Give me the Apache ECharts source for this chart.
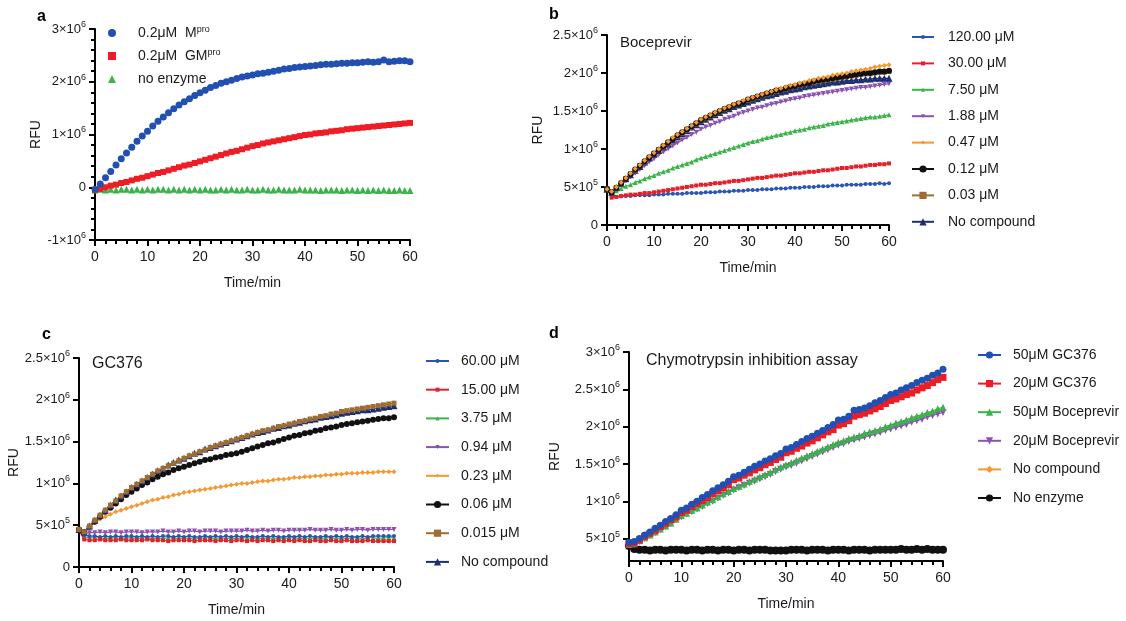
<!DOCTYPE html>
<html><head><meta charset="utf-8">
<script src="https://cdn.jsdelivr.net/npm/echarts@6/dist/echarts.min.js"></script>
<style>html,body{margin:0;padding:0;background:#fff}#c{width:1126px;height:621px}</style>
</head><body><div id="c"></div>
<script>
// time points (min)
const TIME = [0,1,2,3,4,5,6,7,8,9,10,11,12,13,14,15,16,17,18,19,20,21,22,23,24,25,26,27,28,29,30,31,32,33,34,35,36,37,38,39,40,41,42,43,44,45,46,47,48,49,50,51,52,53,54,55,56,57,58,59,60];
// all values in RFU x 10^6
// ---- panel a
const A_NAMES = ['0.2μM  M^pro', '0.2μM  GM^pro', 'no enzyme'];
const A_MPRO = [-0.04,0.06,0.18,0.30,0.42,0.54,0.65,0.76,0.87,0.97,1.06,1.16,1.25,1.33,1.41,1.49,1.56,1.62,1.68,1.74,1.79,1.84,1.89,1.93,1.97,2.00,2.03,2.06,2.09,2.11,2.13,2.15,2.16,2.18,2.20,2.22,2.24,2.25,2.27,2.28,2.29,2.30,2.31,2.32,2.33,2.33,2.34,2.35,2.35,2.36,2.36,2.37,2.38,2.37,2.38,2.41,2.38,2.39,2.40,2.40,2.38];
const A_GMPRO = [-0.05,-0.03,0.00,0.03,0.05,0.08,0.10,0.13,0.16,0.18,0.21,0.24,0.27,0.29,0.32,0.35,0.38,0.41,0.43,0.46,0.49,0.52,0.55,0.58,0.61,0.64,0.67,0.69,0.72,0.75,0.78,0.80,0.83,0.85,0.87,0.89,0.91,0.93,0.95,0.97,0.99,1.00,1.02,1.03,1.04,1.06,1.07,1.08,1.10,1.11,1.12,1.13,1.14,1.15,1.16,1.17,1.18,1.19,1.20,1.21,1.22];
const A_NOENZ = [-0.05,-0.04,-0.05,-0.04,-0.05,-0.04,-0.04,-0.05,-0.04,-0.05,-0.04,-0.05,-0.04,-0.04,-0.05,-0.04,-0.05,-0.04,-0.05,-0.04,-0.05,-0.04,-0.05,-0.05,-0.04,-0.05,-0.04,-0.05,-0.05,-0.04,-0.05,-0.05,-0.04,-0.05,-0.05,-0.04,-0.05,-0.05,-0.05,-0.04,-0.05,-0.05,-0.05,-0.06,-0.05,-0.05,-0.05,-0.06,-0.05,-0.05,-0.06,-0.05,-0.06,-0.05,-0.06,-0.05,-0.06,-0.06,-0.05,-0.06,-0.06];
// ---- panel b (Boceprevir)
const B_NAMES = ['120.00 μM','30.00 μM','7.50 μM','1.88 μM','0.47 μM','0.12 μM','0.03 μM','No compound'];
const B_120 = [0.47,0.37,0.37,0.38,0.38,0.38,0.39,0.39,0.39,0.39,0.40,0.40,0.40,0.41,0.41,0.41,0.41,0.42,0.42,0.42,0.42,0.43,0.43,0.43,0.44,0.44,0.44,0.45,0.45,0.45,0.46,0.46,0.46,0.47,0.47,0.47,0.48,0.48,0.48,0.49,0.49,0.49,0.50,0.50,0.50,0.51,0.51,0.51,0.52,0.52,0.52,0.53,0.53,0.53,0.53,0.54,0.54,0.54,0.55,0.54,0.55];
const B_30 = [0.47,0.36,0.37,0.38,0.39,0.40,0.40,0.41,0.42,0.42,0.43,0.44,0.45,0.46,0.47,0.48,0.49,0.50,0.51,0.52,0.53,0.53,0.54,0.55,0.55,0.56,0.57,0.58,0.58,0.59,0.60,0.61,0.62,0.62,0.63,0.64,0.65,0.65,0.66,0.67,0.68,0.68,0.69,0.70,0.70,0.71,0.72,0.72,0.73,0.74,0.75,0.75,0.76,0.77,0.77,0.78,0.79,0.79,0.80,0.80,0.81];
const B_7P5 = [0.47,0.42,0.45,0.48,0.51,0.53,0.56,0.58,0.61,0.63,0.65,0.68,0.70,0.72,0.75,0.77,0.79,0.81,0.83,0.86,0.88,0.90,0.92,0.94,0.96,0.98,1.00,1.02,1.04,1.06,1.08,1.10,1.11,1.13,1.15,1.16,1.18,1.19,1.21,1.22,1.24,1.25,1.26,1.28,1.29,1.30,1.31,1.33,1.34,1.35,1.36,1.37,1.38,1.39,1.40,1.41,1.42,1.42,1.43,1.44,1.45];
const B_1P88 = [0.47,0.43,0.48,0.53,0.58,0.63,0.68,0.73,0.78,0.83,0.87,0.92,0.96,1.00,1.04,1.08,1.12,1.15,1.19,1.22,1.26,1.29,1.31,1.34,1.36,1.39,1.41,1.43,1.46,1.48,1.50,1.52,1.54,1.55,1.57,1.59,1.60,1.62,1.63,1.65,1.66,1.67,1.69,1.70,1.71,1.72,1.73,1.74,1.75,1.76,1.77,1.78,1.79,1.80,1.81,1.81,1.82,1.83,1.84,1.85,1.86];
const B_0P47 = [0.47,0.44,0.50,0.56,0.62,0.68,0.74,0.79,0.85,0.90,0.95,1.00,1.05,1.10,1.15,1.19,1.23,1.27,1.31,1.35,1.39,1.42,1.45,1.48,1.51,1.54,1.56,1.59,1.61,1.64,1.66,1.68,1.70,1.72,1.74,1.76,1.78,1.80,1.82,1.84,1.85,1.87,1.88,1.90,1.91,1.93,1.94,1.95,1.97,1.98,1.99,2.00,2.02,2.03,2.04,2.05,2.06,2.08,2.09,2.10,2.11];
const B_0P12 = [0.47,0.43,0.49,0.55,0.61,0.67,0.73,0.78,0.84,0.89,0.94,0.99,1.04,1.09,1.13,1.18,1.22,1.26,1.30,1.34,1.38,1.41,1.44,1.47,1.50,1.53,1.55,1.58,1.60,1.62,1.65,1.67,1.69,1.71,1.73,1.75,1.77,1.78,1.80,1.82,1.83,1.85,1.86,1.87,1.89,1.90,1.91,1.92,1.93,1.94,1.95,1.96,1.97,1.98,1.99,2.00,2.00,2.01,2.02,2.02,2.03];
const B_0P03 = [0.48,0.44,0.49,0.55,0.61,0.67,0.72,0.78,0.83,0.89,0.94,0.99,1.03,1.08,1.13,1.17,1.21,1.25,1.29,1.33,1.37,1.40,1.43,1.46,1.49,1.52,1.55,1.57,1.60,1.62,1.64,1.66,1.68,1.70,1.72,1.74,1.76,1.78,1.79,1.81,1.82,1.84,1.85,1.87,1.88,1.89,1.90,1.91,1.92,1.93,1.94,1.95,1.96,1.97,1.98,1.99,1.99,2.00,2.01,2.01,2.02];
const B_NOCMP = [0.47,0.43,0.49,0.55,0.61,0.66,0.72,0.77,0.83,0.88,0.93,0.98,1.03,1.07,1.12,1.16,1.20,1.24,1.29,1.32,1.36,1.39,1.42,1.45,1.48,1.51,1.53,1.56,1.58,1.60,1.62,1.64,1.66,1.68,1.70,1.71,1.73,1.75,1.76,1.78,1.79,1.80,1.82,1.83,1.84,1.85,1.86,1.87,1.88,1.88,1.89,1.90,1.90,1.91,1.91,1.92,1.92,1.93,1.93,1.93,1.93];
// ---- panel c (GC376)
const C_NAMES = ['60.00 μM','15.00 μM','3.75 μM','0.94 μM','0.23 μM','0.06 μM','0.015 μM','No compound\u200b'];
const C_60 = [0.45,0.38,0.37,0.37,0.36,0.37,0.36,0.37,0.36,0.37,0.37,0.36,0.37,0.36,0.37,0.36,0.37,0.37,0.36,0.37,0.36,0.37,0.36,0.36,0.37,0.36,0.37,0.36,0.37,0.36,0.37,0.36,0.37,0.36,0.36,0.37,0.36,0.37,0.36,0.36,0.37,0.36,0.37,0.36,0.37,0.36,0.36,0.37,0.36,0.37,0.36,0.37,0.36,0.36,0.37,0.36,0.37,0.37,0.37,0.37,0.37];
const C_15 = [0.43,0.33,0.32,0.32,0.33,0.32,0.32,0.32,0.33,0.32,0.32,0.32,0.32,0.33,0.32,0.32,0.32,0.31,0.32,0.32,0.32,0.32,0.31,0.32,0.32,0.32,0.31,0.32,0.32,0.31,0.32,0.32,0.31,0.32,0.31,0.32,0.32,0.31,0.32,0.31,0.32,0.31,0.32,0.31,0.31,0.32,0.31,0.31,0.32,0.31,0.31,0.32,0.31,0.31,0.31,0.32,0.31,0.31,0.31,0.31,0.31];
const C_3P75 = [0.44,0.36,0.35,0.35,0.35,0.34,0.35,0.35,0.34,0.35,0.35,0.34,0.35,0.35,0.34,0.35,0.34,0.35,0.35,0.34,0.35,0.34,0.35,0.34,0.35,0.35,0.34,0.35,0.34,0.35,0.34,0.35,0.35,0.34,0.35,0.34,0.35,0.34,0.35,0.34,0.35,0.35,0.34,0.35,0.34,0.35,0.34,0.35,0.35,0.34,0.35,0.34,0.35,0.35,0.34,0.35,0.35,0.34,0.35,0.35,0.35];
const C_0P94 = [0.45,0.40,0.41,0.41,0.42,0.41,0.42,0.42,0.41,0.42,0.42,0.42,0.41,0.42,0.42,0.42,0.43,0.42,0.42,0.43,0.42,0.43,0.43,0.42,0.43,0.43,0.43,0.42,0.43,0.43,0.43,0.43,0.44,0.43,0.43,0.44,0.43,0.44,0.44,0.43,0.44,0.44,0.44,0.44,0.45,0.44,0.44,0.44,0.45,0.44,0.44,0.45,0.44,0.45,0.45,0.44,0.45,0.45,0.45,0.45,0.45];
const C_0P23 = [0.45,0.42,0.48,0.53,0.57,0.60,0.63,0.66,0.68,0.70,0.72,0.74,0.76,0.78,0.80,0.81,0.83,0.84,0.86,0.87,0.89,0.90,0.91,0.92,0.93,0.94,0.95,0.96,0.97,0.98,0.99,1.00,1.00,1.01,1.02,1.03,1.03,1.04,1.05,1.05,1.06,1.07,1.07,1.08,1.08,1.09,1.09,1.10,1.10,1.11,1.11,1.12,1.12,1.12,1.13,1.13,1.13,1.14,1.14,1.14,1.14];
const C_0P06 = [0.45,0.42,0.48,0.54,0.60,0.66,0.71,0.76,0.81,0.86,0.90,0.94,0.98,1.01,1.05,1.08,1.11,1.13,1.16,1.18,1.20,1.22,1.24,1.26,1.28,1.29,1.31,1.32,1.34,1.35,1.36,1.38,1.40,1.42,1.44,1.46,1.48,1.49,1.51,1.53,1.55,1.57,1.58,1.60,1.61,1.63,1.64,1.66,1.67,1.68,1.70,1.71,1.72,1.73,1.74,1.75,1.76,1.77,1.78,1.78,1.79];
const C_0P015 = [0.45,0.42,0.49,0.56,0.62,0.68,0.74,0.79,0.85,0.90,0.95,0.99,1.03,1.07,1.11,1.15,1.18,1.21,1.24,1.27,1.30,1.33,1.35,1.38,1.40,1.43,1.45,1.47,1.49,1.51,1.53,1.55,1.57,1.59,1.61,1.63,1.64,1.66,1.68,1.69,1.71,1.72,1.74,1.75,1.77,1.78,1.80,1.81,1.83,1.84,1.86,1.87,1.88,1.89,1.90,1.91,1.92,1.93,1.94,1.95,1.96];
const C_NOCMP = [0.45,0.42,0.49,0.56,0.62,0.68,0.74,0.80,0.85,0.90,0.95,0.99,1.03,1.07,1.11,1.15,1.18,1.22,1.25,1.28,1.30,1.33,1.36,1.38,1.41,1.43,1.45,1.47,1.49,1.51,1.53,1.55,1.57,1.59,1.61,1.62,1.64,1.66,1.67,1.69,1.70,1.72,1.73,1.75,1.76,1.77,1.79,1.80,1.81,1.82,1.84,1.85,1.86,1.87,1.88,1.88,1.89,1.90,1.91,1.92,1.93];
// ---- panel d (Chymotrypsin)
const D_NAMES = ['50μM GC376','20μM GC376','50μM Boceprevir','20μM Boceprevir','No compound\u200b\u200b','No enzyme'];
const D_GC50 = [0.45,0.46,0.50,0.55,0.59,0.64,0.68,0.73,0.77,0.82,0.88,0.91,0.96,1.00,1.05,1.09,1.14,1.18,1.22,1.27,1.33,1.35,1.39,1.43,1.47,1.50,1.54,1.57,1.61,1.64,1.70,1.72,1.76,1.80,1.84,1.87,1.91,1.95,1.99,2.03,2.09,2.10,2.14,2.22,2.23,2.25,2.28,2.32,2.35,2.39,2.43,2.45,2.49,2.52,2.55,2.59,2.62,2.65,2.69,2.72,2.77];
const D_GC20 = [0.43,0.44,0.48,0.53,0.57,0.61,0.66,0.70,0.75,0.79,0.85,0.88,0.93,0.97,1.01,1.05,1.10,1.14,1.18,1.22,1.29,1.31,1.35,1.38,1.42,1.45,1.49,1.52,1.56,1.59,1.65,1.67,1.71,1.74,1.78,1.81,1.85,1.89,1.93,1.96,2.02,2.04,2.08,2.14,2.16,2.18,2.21,2.24,2.27,2.31,2.35,2.37,2.40,2.43,2.45,2.49,2.52,2.55,2.59,2.63,2.66];
const D_BOC50 = [0.42,0.43,0.47,0.51,0.55,0.59,0.63,0.67,0.71,0.76,0.81,0.84,0.88,0.91,0.95,0.99,1.02,1.06,1.10,1.13,1.17,1.20,1.23,1.27,1.30,1.33,1.36,1.39,1.43,1.46,1.49,1.52,1.55,1.58,1.61,1.64,1.67,1.70,1.73,1.76,1.79,1.81,1.84,1.86,1.88,1.91,1.93,1.95,1.97,2.00,2.02,2.05,2.07,2.09,2.12,2.14,2.16,2.19,2.21,2.24,2.26];
const D_BOC20 = [0.42,0.42,0.46,0.50,0.54,0.58,0.62,0.66,0.70,0.75,0.79,0.83,0.86,0.90,0.93,0.97,1.00,1.04,1.08,1.11,1.15,1.18,1.21,1.24,1.27,1.30,1.33,1.36,1.40,1.43,1.46,1.48,1.51,1.54,1.57,1.60,1.63,1.66,1.69,1.72,1.75,1.77,1.80,1.82,1.84,1.86,1.88,1.90,1.92,1.95,1.97,1.99,2.01,2.03,2.06,2.08,2.10,2.13,2.15,2.17,2.19];
const D_NOCMP = [0.44,0.45,0.49,0.54,0.58,0.62,0.67,0.71,0.76,0.80,0.86,0.89,0.94,0.98,1.02,1.06,1.11,1.15,1.19,1.24,1.30,1.32,1.36,1.40,1.44,1.47,1.51,1.54,1.58,1.61,1.67,1.69,1.73,1.77,1.81,1.84,1.88,1.92,1.96,1.99,2.05,2.07,2.11,2.16,2.18,2.20,2.23,2.26,2.29,2.33,2.37,2.39,2.42,2.45,2.47,2.51,2.54,2.57,2.60,2.64,2.67];
const D_NOENZ = [0.40,0.36,0.35,0.35,0.34,0.35,0.35,0.34,0.35,0.35,0.35,0.34,0.35,0.35,0.34,0.35,0.35,0.34,0.35,0.35,0.34,0.35,0.35,0.34,0.35,0.35,0.35,0.34,0.34,0.34,0.34,0.35,0.35,0.35,0.34,0.35,0.35,0.35,0.34,0.35,0.35,0.35,0.34,0.35,0.35,0.35,0.34,0.35,0.35,0.35,0.35,0.35,0.36,0.35,0.35,0.36,0.35,0.36,0.35,0.35,0.35];
// axis ticks
const D_Y_TICKS = [500000,1000000,1500000,2000000,2500000,3000000];

const FONT = 'Liberation Sans, Arial, sans-serif';
const TXT = '#1a1a1a';
function pts(v){ return TIME.map((t,i)=>[t, Math.round(v[i]*1e6)]); }
function sci(v){
  if (v === 0) return '{b|0}';
  const e = Math.floor(Math.log10(Math.abs(v)) + 1e-9);
  const m = +(v/Math.pow(10,e)).toFixed(2);
  return '{b|' + m + '×10}{s|' + e + '}';
}
const COL = {blue:'#2a55b3', red:'#e4202a', green:'#3cb34a', purple:'#8b52b0', orange:'#f7972f', black:'#111111', brown:'#9d6d35', navy:'#1e2f6e'};

function xAxis(gi){
  return {gridIndex:gi, type:'value', min:0, max:60, interval:10,
    axisLine:{onZero:false, lineStyle:{color:'#000', width:2}},
    axisTick:{length:6, lineStyle:{color:'#000', width:2}},
    minorTick:{show:true, splitNumber:5, length:4, lineStyle:{color:'#000', width:2}},
    splitLine:{show:false}, minorSplitLine:{show:false},
    axisLabel:{fontSize:14, color:TXT, margin:10, fontFamily:FONT},
    name:'Time/min', nameLocation:'middle', nameGap:36,
    nameTextStyle:{fontSize:14, color:TXT, fontFamily:FONT}};
}
function yAxis(gi, o){
  return Object.assign({gridIndex:gi, type:'value',
    axisLine:{show:true, onZero:false, lineStyle:{color:'#000', width:2}},
    axisTick:{show:true, length:6, lineStyle:{color:'#000', width:2}},
    splitLine:{show:false},
    axisLabel:{formatter:sci, margin:9, color:TXT,
      rich:{b:{fontSize:13, lineHeight:18, color:TXT, fontFamily:FONT},
            s:{fontSize:9, lineHeight:18, verticalAlign:'top', color:TXT, fontFamily:FONT}}},
    name:'RFU', nameLocation:'middle', nameRotate:90,
    nameTextStyle:{fontSize:14, color:TXT, fontFamily:FONT}}, o);
}
function line(name, gi, vals, color, symbol, size, extra){
  return Object.assign({name, type:'line', xAxisIndex:gi, yAxisIndex:gi, data:pts(vals),
    symbol, symbolSize:size, showAllSymbol:true, color,
    itemStyle:{color}, lineStyle:{color, width:1.2}, emphasis:{disabled:true}}, extra||{});
}
function scat(name, vals, color, symbol, size){
  return {name, type:'scatter', xAxisIndex:0, yAxisIndex:0, data:pts(vals), symbol, symbolSize:size,
    itemStyle:{color, opacity:1}, color, emphasis:{disabled:true}};
}
const INV = {symbolRotate:180};
function legendText(extra){
  return Object.assign({fontSize:14, lineHeight:16, color:TXT, fontFamily:FONT,
    rich:{t:{fontSize:14, color:TXT, fontFamily:FONT}, s:{fontSize:9, verticalAlign:'top', lineHeight:16, color:TXT, fontFamily:FONT}}}, extra);
}
function legFmt(n){
  n = n.replace(/\u200b/g,'');
  const m = n.match(/^(.*)\^(.*)$/);
  return m ? '{t|' + m[1] + '}{s|' + m[2] + '}' : n;
}
function legend(names, left, top, w, h, gap, pad){
  return {data:names, left, top, orient:'vertical', itemWidth:w, itemHeight:h, itemGap:gap,
    padding:0, selectedMode:false, formatter:legFmt, textStyle:legendText({padding:[0,0,0,pad]}),
    symbolRotate:'inherit'};
}

const option = {
  animation:false,
  backgroundColor:'#fff',
  grid:[
    {left:95, top:29, width:315, height:211},
    {left:607, top:35, width:282, height:190},
    {left:79, top:358, width:315, height:209},
    {left:629, top:352, width:314, height:209}
  ],
  title:[
    {text:'a', left:37, top:9, padding:0, textStyle:{fontSize:16, fontWeight:'bold', color:'#000', fontFamily:FONT}},
    {text:'b', left:549, top:7, padding:0, textStyle:{fontSize:16, fontWeight:'bold', color:'#000', fontFamily:FONT}},
    {text:'c', left:42, top:327, padding:0, textStyle:{fontSize:16, fontWeight:'bold', color:'#000', fontFamily:FONT}},
    {text:'d', left:549, top:326, padding:0, textStyle:{fontSize:16, fontWeight:'bold', color:'#000', fontFamily:FONT}},
    {text:'Boceprevir', left:620, top:35, padding:0, textStyle:{fontSize:15, fontWeight:'normal', color:TXT, fontFamily:FONT}},
    {text:'GC376', left:92, top:356, padding:0, textStyle:{fontSize:16, fontWeight:'normal', color:TXT, fontFamily:FONT}},
    {text:'Chymotrypsin inhibition assay', left:646, top:353, padding:0, textStyle:{fontSize:16, fontWeight:'normal', color:TXT, fontFamily:FONT}}
  ],
  xAxis:[xAxis(0), xAxis(1), xAxis(2), xAxis(3)],
  yAxis:[
    yAxis(0, {min:-1000000, max:3000000, interval:1000000, nameGap:45,
      minorTick:{show:true, splitNumber:5, length:4, lineStyle:{color:'#000', width:2}}, minorSplitLine:{show:false}}),
    yAxis(1, {min:0, max:2500000, interval:500000, nameGap:62}),
    yAxis(2, {min:0, max:2500000, interval:500000, nameGap:54}),
    yAxis(3, {min:200000, max:3000000, nameGap:67})
  ],
  legend:[
    legend(A_NAMES, 108, 25, 8, 8, 7, 17),
    legend(B_NAMES.slice(0,5), 911, 29, 22, 5, 10.4, 9),
    legend(B_NAMES.slice(5), 911, 161, 22, 9, 10.4, 9),
    legend(C_NAMES.slice(0,5), 425, 353, 23, 5, 12.7, 7),
    legend(C_NAMES.slice(5), 425, 496.5, 23, 9, 12.7, 7),
    legend(D_NAMES, 977, 347, 23, 9, 12.6, 7)
  ],
  series:[
    scat(A_NAMES[2], A_NOENZ, COL.green, 'triangle', 7),
    scat(A_NAMES[1], A_GMPRO, '#ee1c24', 'rect', 6),
    scat(A_NAMES[0], A_MPRO, '#2150b0', 'circle', 7),

    line(B_NAMES[0], 1, B_120, COL.blue, 'circle', 4),
    line(B_NAMES[1], 1, B_30, COL.red, 'rect', 4),
    line(B_NAMES[2], 1, B_7P5, COL.green, 'triangle', 5),
    line(B_NAMES[3], 1, B_1P88, COL.purple, 'triangle', 5, INV),
    line(B_NAMES[7], 1, B_NOCMP, COL.navy, 'triangle', 7),
    line(B_NAMES[6], 1, B_0P03, COL.brown, 'rect', 5),
    line(B_NAMES[5], 1, B_0P12, COL.black, 'circle', 6),
    line(B_NAMES[4], 1, B_0P47, COL.orange, 'diamond', 5),

    line(C_NAMES[2], 2, C_3P75, COL.green, 'triangle', 5),
    line(C_NAMES[0], 2, C_60, COL.blue, 'circle', 4),
    line(C_NAMES[1], 2, C_15, COL.red, 'rect', 4),
    line(C_NAMES[3], 2, C_0P94, COL.purple, 'triangle', 5, INV),
    line(C_NAMES[4], 2, C_0P23, COL.orange, 'diamond', 5),
    line(C_NAMES[5], 2, C_0P06, COL.black, 'circle', 6),
    line(C_NAMES[7], 2, C_NOCMP, COL.navy, 'triangle', 7),
    line(C_NAMES[6], 2, C_0P015, COL.brown, 'rect', 5),

    line(D_NAMES[5], 3, D_NOENZ, COL.black, 'circle', 8),
    line(D_NAMES[3], 3, D_BOC20, COL.purple, 'triangle', 7, INV),
    line(D_NAMES[2], 3, D_BOC50, COL.green, 'triangle', 7),
    line(D_NAMES[4], 3, D_NOCMP, COL.orange, 'diamond', 6),
    line(D_NAMES[1], 3, D_GC20, '#ee1c24', 'rect', 7),
    line(D_NAMES[0], 3, D_GC50, '#2150b5', 'circle', 7)
  ]
};
// custom tick positions for panel d's y axis (axis starts at 2x10^5)
option.yAxis[3].axisTick.customValues = D_Y_TICKS;
option.yAxis[3].axisLabel.customValues = D_Y_TICKS;

const chart = echarts.init(document.getElementById('c'), null, {renderer:'canvas'});
chart.setOption(option);
</script>
</body></html>
